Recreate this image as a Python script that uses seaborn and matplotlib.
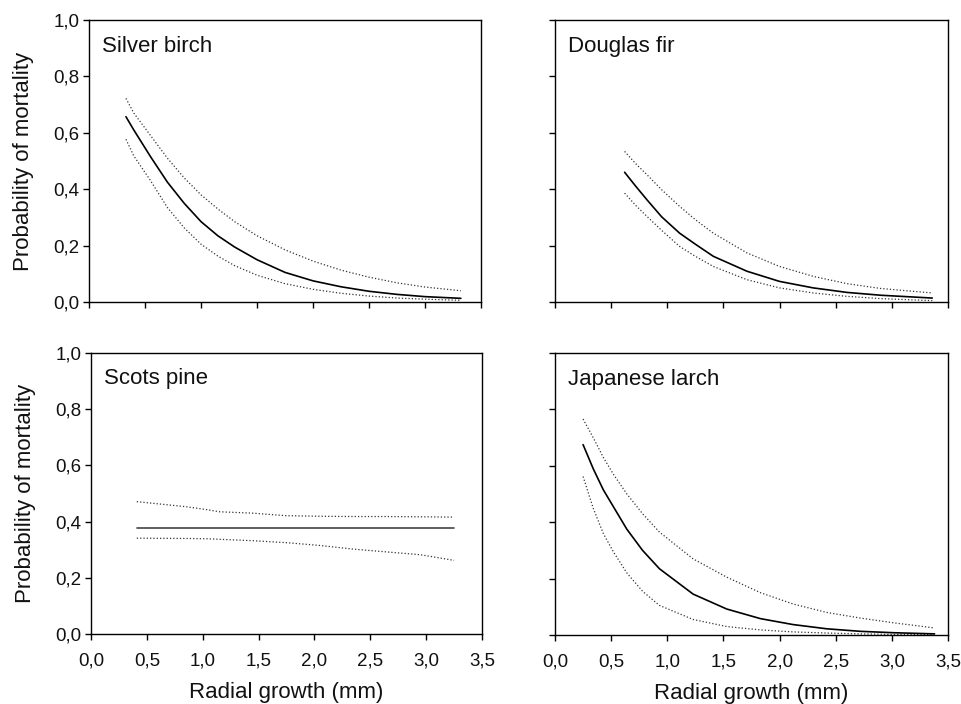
import matplotlib
matplotlib.use("Agg")
import matplotlib.pyplot as plt
import seaborn as sns
import pandas as pd

# ---------------- data ----------------
titles = ["Silver birch", "Douglas fir", "Scots pine", "Japanese larch"]
x_ticks = [0.0, 0.5, 1.0, 1.5, 2.0, 2.5, 3.0, 3.5]
x_tick_labels = ["0,0", "0,5", "1,0", "1,5", "2,0", "2,5", "3,0", "3,5"]
y_ticks = [0.0, 0.2, 0.4, 0.6, 0.8, 1.0]
y_tick_labels = ["0,0", "0,2", "0,4", "0,6", "0,8", "1,0"]

sb_x = [0.33, 0.40, 0.55, 0.70, 0.85, 1.00, 1.15, 1.30, 1.50, 1.75, 2.00, 2.25, 2.50, 2.75, 3.00, 3.32]
sb_mean = [0.657, 0.610, 0.515, 0.425, 0.350, 0.285, 0.235, 0.195, 0.150, 0.105, 0.075, 0.054, 0.038, 0.027, 0.019, 0.013]
sb_upper = [0.722, 0.670, 0.590, 0.510, 0.440, 0.380, 0.330, 0.285, 0.235, 0.185, 0.145, 0.113, 0.088, 0.068, 0.053, 0.040]
sb_lower = [0.577, 0.518, 0.430, 0.335, 0.263, 0.205, 0.163, 0.129, 0.095, 0.065, 0.045, 0.031, 0.021, 0.014, 0.010, 0.006]

df_x = [0.62, 0.72, 0.82, 0.95, 1.11, 1.25, 1.41, 1.71, 2.00, 2.30, 2.60, 2.90, 3.36]
df_mean = [0.460, 0.410, 0.362, 0.302, 0.244, 0.205, 0.162, 0.109, 0.073, 0.050, 0.034, 0.024, 0.014]
df_upper = [0.534, 0.490, 0.451, 0.398, 0.339, 0.292, 0.244, 0.174, 0.126, 0.091, 0.065, 0.048, 0.032]
df_lower = [0.386, 0.342, 0.303, 0.254, 0.197, 0.162, 0.126, 0.079, 0.050, 0.032, 0.020, 0.012, 0.005]

sp_x = [0.41, 0.85, 1.03, 1.15, 1.45, 1.75, 2.05, 2.35, 2.65, 2.95, 3.25]
sp_mean = [0.377, 0.377, 0.377, 0.377, 0.377, 0.377, 0.377, 0.377, 0.377, 0.377, 0.377]
sp_upper = [0.471, 0.453, 0.443, 0.435, 0.430, 0.421, 0.419, 0.418, 0.418, 0.417, 0.416]
sp_lower = [0.341, 0.340, 0.339, 0.337, 0.332, 0.325, 0.315, 0.302, 0.292, 0.282, 0.262]

jl_x = [0.25, 0.34, 0.43, 0.52, 0.64, 0.78, 0.93, 1.23, 1.53, 1.83, 2.12, 2.42, 2.72, 3.02, 3.38]
jl_mean = [0.675, 0.590, 0.515, 0.455, 0.375, 0.300, 0.235, 0.145, 0.092, 0.058, 0.037, 0.022, 0.013, 0.008, 0.004]
jl_upper = [0.766, 0.700, 0.630, 0.570, 0.500, 0.430, 0.365, 0.270, 0.205, 0.150, 0.110, 0.080, 0.060, 0.043, 0.025]
jl_lower = [0.562, 0.450, 0.360, 0.295, 0.220, 0.155, 0.105, 0.055, 0.030, 0.018, 0.011, 0.007, 0.004, 0.002, 0.001]

panels = [
    (sb_x, sb_mean, sb_upper, sb_lower),
    (df_x, df_mean, df_upper, df_lower),
    (sp_x, sp_mean, sp_upper, sp_lower),
    (jl_x, jl_mean, jl_upper, jl_lower),
]

# ---------------- style ----------------
sns.set_theme(style="ticks")
plt.rcParams["font.family"] = ["Liberation Sans", "DejaVu Sans"]
plt.rcParams["axes.edgecolor"] = "black"
plt.rcParams["axes.linewidth"] = 1.0

fig = plt.figure(figsize=(9.62, 7.04), dpi=100)
W, H = 962.0, 704.0
# pixel boxes: left, top, right, bottom
boxes = [
    (89, 20, 481, 302),
    (555, 20, 948, 302),
    (91, 353, 482, 634),
    (555, 353, 948, 635),
]

for i, (box, title, data) in enumerate(zip(boxes, titles, panels)):
    l, t, r, b = box
    ax = fig.add_axes([l / W, 1 - b / H, (r - l) / W, (b - t) / H])
    xs, ym, yu, yl = data
    frame = pd.DataFrame({"x": xs, "mean": ym, "upper": yu, "lower": yl})
    mean_color = "#444444" if i == 2 else "black"
    sns.lineplot(data=frame, x="x", y="upper", ax=ax, color="#333333",
                 linestyle=":", linewidth=0.9, estimator=None)
    sns.lineplot(data=frame, x="x", y="lower", ax=ax, color="#333333",
                 linestyle=":", linewidth=0.9, estimator=None)
    sns.lineplot(data=frame, x="x", y="mean", ax=ax, color=mean_color,
                 linewidth=1.2, estimator=None)
    ax.set_xlim(0, 3.5)
    ax.set_ylim(0, 1.0)
    ax.set_xticks(x_ticks)
    ax.set_yticks(y_ticks)
    for s in ax.spines.values():
        s.set_visible(True)
        s.set_color("black")
        s.set_linewidth(1.0)
    ax.tick_params(direction="out", length=4, width=1, color="black")
    ax.tick_params(axis="x", pad=9)
    ax.tick_params(axis="y", pad=3)
    if i >= 2:
        ax.set_xticklabels(x_tick_labels, fontsize=13.5, color="#111111")
        ax.set_xlabel("Radial growth (mm)", fontsize=16, labelpad=9, color="#111111")
    else:
        ax.set_xticklabels([])
        ax.set_xlabel("")
    if i % 2 == 0:
        ax.set_yticklabels(y_tick_labels, fontsize=13.5, color="#111111")
        ax.set_ylabel("Probability of mortality", fontsize=16, labelpad=14, color="#111111")
    else:
        ax.set_yticklabels([])
        ax.set_ylabel("")
    ax.text(0.033, 0.945, title, transform=ax.transAxes, ha="left", va="top",
            fontsize=16, color="#111111")
    ax.set_facecolor("white")

fig.savefig("out.png", dpi=100, facecolor="white")
